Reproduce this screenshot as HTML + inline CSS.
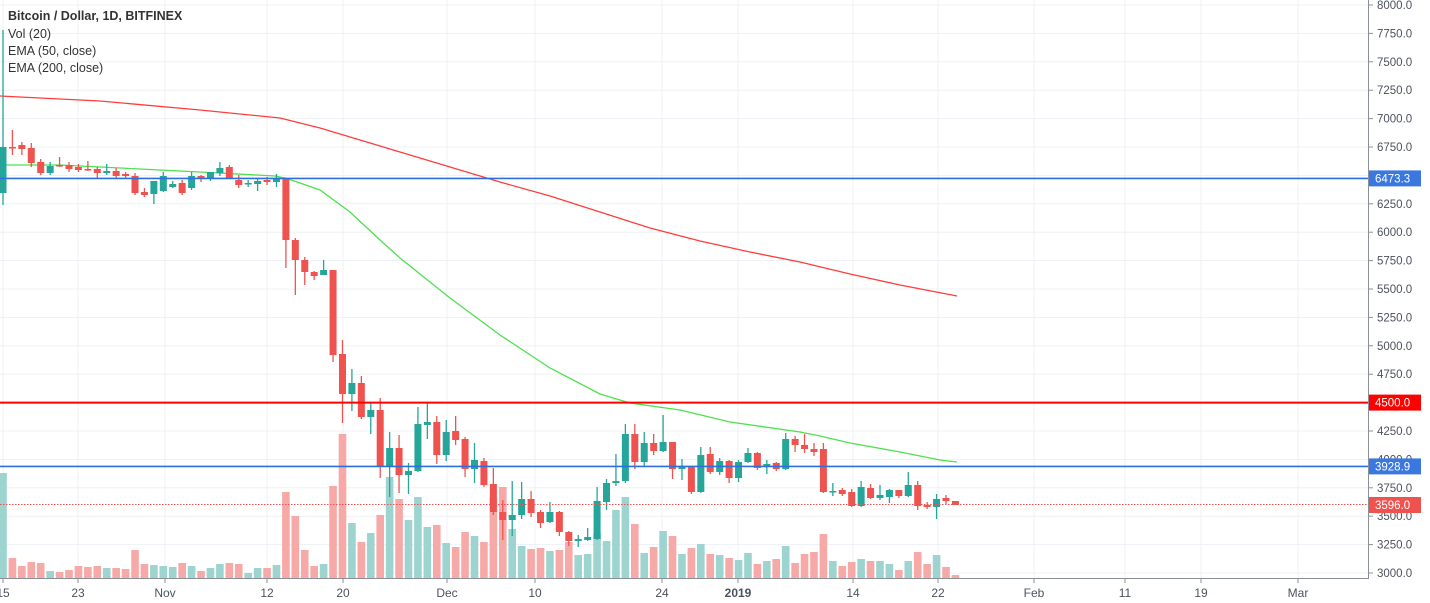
<!DOCTYPE html>
<html><head><meta charset="utf-8"><style>
html,body{margin:0;padding:0;background:#fff;}
svg{display:block;font-family:"Liberation Sans",sans-serif;}
</style></head><body>
<svg id="c" width="1430" height="603" xmlns="http://www.w3.org/2000/svg"></svg>
<script>
const s=document.getElementById('c');let h='';
const Y=p=>5+(8000-p)*0.1136;
// horizontal grid
for(let p=3000;p<=8000;p+=250){const y=Y(p);h+=`<line x1="0" y1="${y}" x2="1368" y2="${y}" stroke="#edf1f4" stroke-width="1"/>`;}
const xl=[[3,'15'],[78,'23'],[165,'Nov'],[267,'12'],[343,'20'],[447,'Dec'],[535,'10'],[662,'24'],[738,'2019'],[853,'14'],[938,'22'],[1034,'Feb'],[1125,'11'],[1201,'19'],[1298,'Mar']];
xl.forEach(([x,t])=>{h+=`<line x1="${x}" y1="0" x2="${x}" y2="578" stroke="#edf1f4"/>`;});
// volume
const vol=[473,558,566,562,563,571,572,570,566,567,566,568,568,569,550,564,565,566,567,563,566,571,568,564,563,564,573,568,568,565,492,516,550,566,564,486,434,523,542,533,515,477,499,520,497,527,525,543,547,532,536,542,497,487,529,546,549,548,551,550,542,555,554,533,541,510,497,524,553,547,531,536,554,548,544,554,555,558,560,553,564,561,559,546,563,554,552,534,561,566,562,559,561,561,564,570,561,552,564,555,567,575];
// candles: [o,c,h,l] in pixel y
const C=[[193,147,130,205],[147,147,130,155],[145,149,142,155],[148,163,143,167],[162,173,159,175],[173,166,162,175],[165,165,157,167],[165,169,162,172],[167,170,164,172],[169,169,161,171],[169,173,167,179],[173,171,164,175],[171,176,168,178],[174,176,172,179],[176,193,173,195],[192,195,188,197],[194,181,184,204],[191,176,172,192],[187,184,181,188],[183,193,180,195],[188,176,172,190],[176,179,175,182],[178,172,172,181],[173,168,162,176],[167,179,165,179],[180,185,175,188],[184,183,180,187],[184,181,179,191],[180,182,177,185],[182,179,174,187],[178,240,178,268],[240,260,238,295],[260,272,257,285],[272,276,271,280],[275,270,260,275],[270,355,270,362],[354,394,340,423],[394,383,369,411],[383,417,376,419],[417,410,402,434],[410,467,398,478],[466,448,432,497],[448,475,435,493],[475,471,463,494],[471,424,407,472],[425,422,403,439],[422,455,416,464],[455,432,420,461],[431,440,416,445],[439,469,437,477],[469,460,443,483],[461,485,458,487],[484,512,468,515],[512,520,500,540],[520,515,481,536],[515,499,482,519],[499,513,491,517],[512,523,510,528],[522,512,502,523],[512,532,511,536],[532,541,531,546],[541,539,535,547],[540,537,528,541],[539,501,487,540],[502,483,479,510],[483,481,454,486],[481,434,424,483],[434,462,424,469],[462,443,432,466],[443,451,434,455],[451,442,415,452],[442,469,442,479],[469,467,459,480],[466,492,466,494],[492,455,447,493],[454,472,447,474],[472,461,458,475],[461,478,460,483],[478,462,460,482],[462,453,448,463],[453,468,452,470],[466,464,460,474],[463,469,462,471],[469,439,433,470],[439,445,436,452],[445,449,434,453],[449,452,443,456],[449,492,443,493],[492,491,483,496],[490,494,488,496],[492,506,489,507],[506,487,481,507],[488,498,484,499],[498,495,485,500],[497,490,489,503],[490,496,490,498],[496,485,472,497],[485,506,481,510],[505,507,502,509],[507,499,494,519],[498,501,495,505],[501,505,501,505]];
const X=i=>3+i*9.43;
C.forEach((c,i)=>{const up=c[1]<c[0];const vc=up?'#26a69a':'#ef5350';const x=X(i);
 const v=vol[i]||576;h+=`<rect x="${x-3.8}" y="${v}" width="7.6" height="${578-v}" fill="${up?'#9dd4cf':'#f6a9a7'}"/>`;});
// EMA lines
h+=`<polyline fill="none" stroke="#ff3d3d" stroke-width="1.3" points="0,96 100,101 200,110 280,118 320,128 360,140 420,158 500,182 550,196 600,212 650,228 700,241 750,252 800,262 850,274 900,285 957,296"/>`;
h+=`<polyline fill="none" stroke="#4ee04e" stroke-width="1.3" points="5,165 60,165 100,167 160,170 200,172 275,176 285,178 300,183 320,190 350,212 380,240 400,258 450,298 500,335 550,368 600,394 630,403 680,410 730,422 800,432 820,436 850,443 900,452 940,460 957,462"/>`;
C.forEach((c,i)=>{const up=c[1]<c[0];const col=up?'#26a69a':'#ef5350';const x=X(i);
 const t=Math.min(c[0],c[1]),b=Math.max(Math.max(c[0],c[1]),t+1.5);
 h+=`<line x1="${x}" y1="${c[2]}" x2="${x}" y2="${c[3]}" stroke="${col}" stroke-width="1.3"/>`;
 h+=`<rect x="${x-3.5}" y="${t}" width="7" height="${b-t}" fill="${col}"/>`;});
h+=`<line x1="0" y1="178.4" x2="1368" y2="178.4" stroke="#2e6fe0" stroke-width="1.6"/>`;
h+=`<line x1="0" y1="402.6" x2="1368" y2="402.6" stroke="#ff0000" stroke-width="2"/>`;
h+=`<line x1="0" y1="466.4" x2="1368" y2="466.4" stroke="#2e6fe0" stroke-width="1.6"/>`;
h+=`<line x1="0" y1="504.5" x2="1368" y2="504.5" stroke="#ef5350" stroke-width="1" stroke-dasharray="1.5,1.5"/>`;
// axes
h+=`<rect x="1369" y="0" width="61" height="603" fill="#fff"/><rect x="0" y="579" width="1369" height="24" fill="#fff"/>`;
h+=`<line x1="1368.5" y1="0" x2="1368.5" y2="579" stroke="#8b9096"/><line x1="0" y1="578.5" x2="1369" y2="578.5" stroke="#8b9096"/>`;
for(let p=3000;p<=8000;p+=250){const y=Y(p);h+=`<line x1="1369" y1="${y}" x2="1373" y2="${y}" stroke="#8b9096"/><text x="1377" y="${y+4}" font-size="11.5" fill="#4c525e">${p.toFixed(1)}</text>`;}
xl.forEach(([x,t])=>{h+=`<line x1="${x}" y1="579" x2="${x}" y2="583" stroke="#8b9096"/><text x="${x}" y="597" font-size="12" fill="#4c525e" text-anchor="middle" ${t=='2019'?'font-weight="bold"':''}>${t}</text>`;});
const tag=(y,t,bg)=>{h+=`<rect x="1369" y="${y-8}" width="52" height="16" fill="${bg}"/><text x="1375" y="${y+4}" font-size="11.5" fill="#fff">${t}</text>`;};
tag(178.4,'6473.3','#3a78e0');tag(402.6,'4500.0','#ff0000');tag(466.4,'3928.9','#3a78e0');tag(505,'3596.0','#ef5350');
h+=`<text x="8" y="20" font-size="12.5" font-weight="bold" fill="#333">Bitcoin / Dollar, 1D, BITFINEX</text>`;
h+=`<text x="8" y="38" font-size="12.5" fill="#333">Vol (20)</text><text x="8" y="55" font-size="12.5" fill="#333">EMA (50, close)</text><text x="8" y="72" font-size="12.5" fill="#333">EMA (200, close)</text>`;
h+=`<line x1="3" y1="30" x2="3" y2="130" stroke="#26a69a" stroke-width="1.3"/>`;
s.innerHTML=h;
</script>
</body></html>
